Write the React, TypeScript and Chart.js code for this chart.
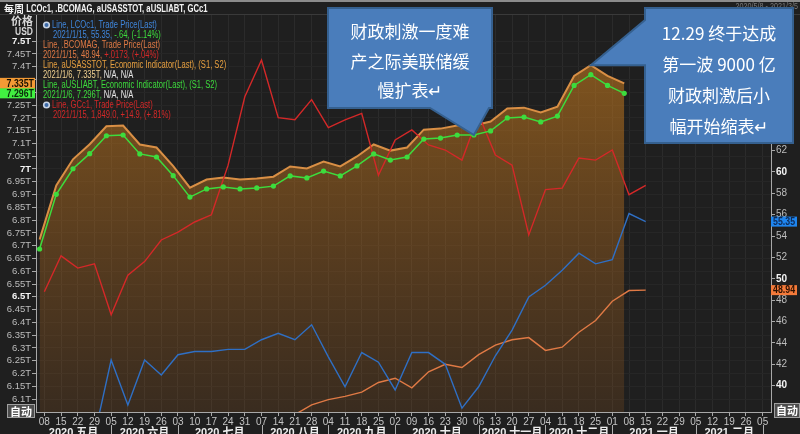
import React, { useEffect, useRef } from 'react';
import { Chart, registerables } from 'chart.js';

Chart.register(...registerables);

// ---------------- data ----------------
// weekly x ticks (Fridays) 2020-05-08 .. 2021-03-05
const weekTicks = ['08','15','22','29','05','12','19','26','03','10','17','24','31','07','14','21','28','04','11','18','25','02','09','16','23','30','06','13','20','27','04','11','18','25','01','08','15','22','29','05','12','19','26','05'];
const monthNames = ['2020 五月','2020 六月','2020 七月','2020 八月','2020 九月','2020 十月','2020 十一月','2020 十二月','2021 一月','2021 二月'];

// Fed H.4.1 data is dated on Wednesdays (2 days before the Friday ticks)
const fedDayOffset = -2;
// aUSASSTOT, trillion USD, 2020-05-06 .. 2021-01-06
const fedAssets = [6.724, 6.936, 7.038, 7.097, 7.167, 7.170, 7.096, 7.084, 7.011, 6.927, 6.959, 6.967, 6.959, 6.963, 6.970, 7.010, 7.002, 7.029, 7.010, 7.049, 7.096, 7.072, 7.084, 7.154, 7.158, 7.170, 7.170, 7.186, 7.237, 7.240, 7.221, 7.244, 7.364, 7.406, 7.364, 7.335];
// aUSLIABT, trillion USD
const fedLiabilities = [6.687, 6.901, 7.001, 7.060, 7.130, 7.133, 7.059, 7.047, 6.974, 6.890, 6.922, 6.930, 6.922, 6.926, 6.933, 6.973, 6.965, 6.992, 6.973, 7.012, 7.059, 7.035, 7.047, 7.117, 7.121, 7.133, 7.133, 7.149, 7.200, 7.203, 7.184, 7.207, 7.327, 7.369, 7.327, 7.296];
// LCOc1 weekly close, 2020-05-08 .. 2021-01-15
const brent = [30.97, 32.50, 35.13, 35.33, 42.4, 38.2, 42.4, 41.0, 42.9, 43.2, 43.2, 43.4, 43.4, 44.3, 44.9, 44.3, 45.7, 42.7, 39.9, 43.1, 42.2, 39.6, 43.1, 43.1, 42.0, 37.9, 39.9, 42.8, 45.2, 48.3, 49.4, 50.8, 52.4, 51.4, 51.8, 56.1, 55.35];
// .BCOMAG weekly close
const bcomag = [null, null, null, null, null, null, null, null, null, null, null, null, null, null, 36.6, 37.3, 38.2, 38.7, 39.0, 39.4, 40.3, 40.7, 39.8, 41.3, 42.0, 41.7, 42.9, 43.8, 44.3, 44.5, 43.3, 43.6, 45.0, 46.1, 47.9, 48.9, 48.94];
// GCc1 weekly close
const gold = [1701, 1751, 1734, 1740, 1669, 1724, 1743, 1773, 1784, 1798, 1808, 1877, 1972, 2023, 1943, 1940, 1968, 1929, 1940, 1949, 1863, 1912, 1926, 1905, 1898, 1884, 1947, 1891, 1877, 1780, 1843, 1845, 1887, 1884, 1898, 1836, 1849];

const leftTickValues = [6.1, 6.15, 6.2, 6.25, 6.3, 6.35, 6.4, 6.45, 6.5, 6.55, 6.6, 6.65, 6.7, 6.75, 6.8, 6.85, 6.9, 6.95, 7, 7.05, 7.1, 7.15, 7.2, 7.25, 7.3, 7.35, 7.4, 7.45, 7.5];
const rightTickValues = [40, 42, 44, 46, 48, 50, 52, 54, 56, 58, 60, 62, 64, 66, 68, 70, 72, 74];

const titlePrefix = '每周 ';
const titleText = 'LCOc1, .BCOMAG, aUSASSTOT, aUSLIABT, GCc1';
const dateRangeText = '2020/5/8 - 2021/3/5';
const callout1Lines = ['财政刺激一度难', '产之际美联储缓', '慢扩表↵'];
const callout2Lines = ['12.29 终于达成', '第一波 9000 亿', '财政刺激后小', '幅开始缩表↵'];
const callout1Anchor = 26; // fed liabilities point the first callout points at
const callout2Anchor = 33; // fed assets point the second callout points at

// ---------------- styles ----------------
const BG = '#1f1f1f';
const BLUE = '#2f6fc4';
const BLUE_T = '#3f86dc';
const ORANGE = '#e07a45';
const GOLD = '#d98f45';
const GOLD_T = '#e8a040';
const GREEN = '#3ddc3d';
const RED = '#d42828';
const WHITE = '#e6e6e6';
const SANS = '"Liberation Sans", Arial, sans-serif';
const CJK = '"Noto Sans CJK SC", "Noto Sans", sans-serif';
const NARROW_X = 0.76; // horizontal squeeze to mimic the narrow UI font

const legendRows = [
  { icon: true, indent: 10, parts: [['Line, LCOc1, Trade Price(Last)', BLUE_T]] },
  { indent: 10, parts: [['2021/1/15, 55.35, ', BLUE_T], ['-.64, (-1.14%)', GREEN]] },
  { indent: 0, parts: [['Line, .BCOMAG, Trade Price(Last)', ORANGE]] },
  { indent: 0, parts: [['2021/1/15, 48.94, ', ORANGE], ['+.0173, (+.04%)', RED]] },
  { indent: 0, parts: [['Line, aUSASSTOT, Economic Indicator(Last), (S1, S2)', GOLD_T]] },
  { indent: 0, parts: [['2021/1/6, 7.335T, ', '#f0d090'], ['N/A, N/A', WHITE]] },
  { indent: 0, parts: [['Line, aUSLIABT, Economic Indicator(Last), (S1, S2)', GREEN]] },
  { indent: 0, parts: [['2021/1/6, 7.296T, ', GREEN], ['N/A, N/A', WHITE]] },
  { icon: true, indent: 10, parts: [['Line, GCc1, Trade Price(Last)', RED]] },
  { indent: 10, parts: [['2021/1/15, 1,849.0, ', RED], ['+14.9, (+.81%)', RED]] },
];

const fmtT = (v: number) => Number(v.toFixed(3)).toString() + 'T';
const isHalf = (v: any) => typeof v === 'number' && Math.abs(v * 2 - Math.round(v * 2)) < 1e-6;
const isTen = (v: any) => typeof v === 'number' && v % 10 === 0;

function narrowText(ctx: CanvasRenderingContext2D, text: string, x: number, y: number, sx: number) {
  ctx.save();
  ctx.translate(x, y);
  ctx.scale(sx, 1);
  ctx.fillText(text, 0, 0);
  ctx.restore();
  return ctx.measureText(text).width * sx;
}

function drawLabelBox(ctx: CanvasRenderingContext2D, x0: number, x1: number, yc: number, h: number, bg: string, fg: string, text: string, align: CanvasTextAlign, tx: number) {
  ctx.fillStyle = bg;
  ctx.fillRect(x0, yc - h / 2, x1 - x0, h);
  ctx.fillStyle = fg;
  ctx.font = 'bold 10px ' + SANS;
  ctx.textAlign = align;
  ctx.textBaseline = 'middle';
  narrowText(ctx, text, tx, yc + 0.5, 0.88);
}

function drawAuto(ctx: CanvasRenderingContext2D, x: number, y: number, w: number, h: number) {
  ctx.fillStyle = '#4d4d4d';
  ctx.fillRect(x, y, w, h);
  ctx.strokeStyle = '#a0a0a0';
  ctx.lineWidth = 1;
  ctx.strokeRect(x + 0.5, y + 0.5, w - 1, h - 1);
  ctx.fillStyle = '#ffffff';
  ctx.font = 'bold 11px ' + CJK;
  ctx.textAlign = 'center';
  ctx.textBaseline = 'middle';
  ctx.fillText('自动', x + w / 2, y + h / 2 + 0.5);
}

function drawCallout(ctx: CanvasRenderingContext2D, pts: number[][], lines: string[], cx: number, y0: number, dy: number) {
  ctx.beginPath();
  ctx.moveTo(pts[0][0], pts[0][1]);
  for (let i = 1; i < pts.length; i++) ctx.lineTo(pts[i][0], pts[i][1]);
  ctx.closePath();
  ctx.fillStyle = '#4a7dbb';
  ctx.fill();
  ctx.strokeStyle = '#35608f';
  ctx.lineWidth = 2;
  ctx.stroke();
  ctx.fillStyle = '#ffffff';
  ctx.font = '17px ' + CJK;
  ctx.textAlign = 'center';
  ctx.textBaseline = 'middle';
  lines.forEach((l, i) => ctx.fillText(l, cx, y0 + i * dy));
}

const overlayPlugin = {
  id: 'overlay',
  beforeDraw(chart: any) {
    const { ctx, width, height } = chart;
    ctx.save();
    ctx.fillStyle = BG;
    ctx.fillRect(0, 0, width, height);
    ctx.restore();
  },
  afterDraw(chart: any) {
    const { ctx, chartArea } = chart;
    const xs = chart.scales.x;
    const yl = chart.scales.yL;
    const yr = chart.scales.yR;
    ctx.save();

    // top strip and title
    ctx.fillStyle = '#8c8c8c';
    ctx.fillRect(0, 0, chart.width, 2);
    ctx.strokeStyle = '#3a3a3a';
    ctx.lineWidth = 1;
    ctx.beginPath();
    ctx.moveTo(0, chartArea.top + 0.5);
    ctx.lineTo(chart.width, chartArea.top + 0.5);
    ctx.stroke();
    ctx.fillStyle = '#f2f2f2';
    ctx.textAlign = 'left';
    ctx.textBaseline = 'middle';
    ctx.font = 'bold 10px ' + CJK;
    ctx.fillText(titlePrefix, 4, 9);
    const px0 = 4 + ctx.measureText(titlePrefix).width;
    ctx.font = 'bold 10px ' + SANS;
    narrowText(ctx, titleText, px0, 9, 0.77);
    ctx.font = '9px ' + SANS;
    ctx.fillStyle = '#7a7a7a';
    ctx.textAlign = 'right';
    narrowText(ctx, dateRangeText, 798, 7, 0.8);

    // 价格 / USD
    ctx.fillStyle = '#d8d8d8';
    ctx.textAlign = 'right';
    ctx.font = 'bold 11px ' + CJK;
    ctx.fillText('价格', 33, 21);
    ctx.font = 'bold 10px ' + SANS;
    narrowText(ctx, 'USD', 33, 32, 0.85);

    // highlighted last values on axes
    const lastA = fedAssets[fedAssets.length - 1];
    const lastL = fedLiabilities[fedLiabilities.length - 1];
    drawLabelBox(ctx, 0, 35, yl.getPixelForValue(lastA), 11, '#f39a35', '#1a1000', fmtT(lastA), 'right', 34);
    drawLabelBox(ctx, 0, 35, yl.getPixelForValue(lastL), 10, '#41f041', '#0a2a0a', fmtT(lastL), 'right', 34);
    const lastB = brent[brent.length - 1] as number;
    const lastC = bcomag[bcomag.length - 1] as number;
    drawLabelBox(ctx, 771, 797, yr.getPixelForValue(lastB), 10, '#1e86f0', '#0f2a55', lastB.toFixed(2), 'left', 773);
    drawLabelBox(ctx, 771, 797, yr.getPixelForValue(lastC), 10, '#f47a3a', '#2a1000', lastC.toFixed(2), 'left', 773);

    // 自动 boxes
    drawAuto(ctx, 7, 404, 28, 14);
    drawAuto(ctx, 774, 403, 26, 15);

    // month row
    const starts: number[] = [0];
    for (let i = 1; i < weekTicks.length; i++) if (+weekTicks[i] < +weekTicks[i - 1]) starts.push(i);
    ctx.strokeStyle = '#b0b0b0';
    ctx.lineWidth = 1;
    for (let k = 1; k < starts.length; k++) {
      const px = Math.round(xs.getPixelForValue(starts[k])) + 0.5;
      ctx.beginPath();
      ctx.moveTo(px, 425);
      ctx.lineTo(px, 434);
      ctx.stroke();
    }
    ctx.font = 'bold 11px ' + SANS + ', ' + CJK;
    ctx.fillStyle = '#ececec';
    ctx.textAlign = 'center';
    ctx.textBaseline = 'top';
    monthNames.forEach((m, k) => {
      const a = k === 0 ? chartArea.left : xs.getPixelForValue(starts[k]);
      const b = xs.getPixelForValue(starts[k + 1]);
      ctx.fillText(m, (a + b) / 2, 427);
    });

    // legend block
    ctx.textAlign = 'left';
    ctx.textBaseline = 'middle';
    ctx.font = '10px ' + SANS;
    legendRows.forEach((row: any, r) => {
      const y = 25 + r * 10;
      let x = 43 + row.indent;
      if (row.icon) {
        ctx.beginPath();
        ctx.arc(46.5, y, 3.6, 0, Math.PI * 2);
        ctx.fillStyle = '#c8d4e4';
        ctx.fill();
        ctx.beginPath();
        ctx.arc(46.5, y, 2, 0, Math.PI * 2);
        ctx.fillStyle = '#3c6aa8';
        ctx.fill();
        x = 52;
      }
      row.parts.forEach((p: string[]) => {
        ctx.fillStyle = p[1];
        x += narrowText(ctx, p[0], x, y, NARROW_X);
      });
    });

    // callouts
    const off = fedDayOffset / 7;
    const t1x = xs.getPixelForValue(callout1Anchor + off);
    const t1y = yl.getPixelForValue(fedLiabilities[callout1Anchor]);
    drawCallout(ctx, [[328, 8], [492, 8], [492, 108], [489, 108], [t1x, t1y], [430, 108], [328, 108]], callout1Lines, 410, 32, 29.5);
    const t2x = xs.getPixelForValue(callout2Anchor + off);
    const t2y = yl.getPixelForValue(fedAssets[callout2Anchor]);
    drawCallout(ctx, [[645, 8], [793, 8], [793, 143], [645, 143], [645, t2y], [t2x, t2y], [645, 20]], callout2Lines, 719, 34, 30.7);

    ctx.restore();
  },
};

export default function App() {
  const ref = useRef<HTMLCanvasElement | null>(null);
  useEffect(() => {
    const canvas = ref.current;
    if (!canvas) return;
    const off = fedDayOffset / 7;
    const chart = new Chart(canvas, {
      type: 'line',
      data: {
        datasets: [
          {
            label: 'aUSASSTOT',
            data: fedAssets.map((v, i) => ({ x: i + off, y: v })),
            yAxisID: 'yL',
            borderColor: GOLD,
            borderWidth: 2,
            pointRadius: 0,
            fill: 'start',
            backgroundColor: (c: any) => {
              const a = c.chart.chartArea;
              if (!a) return 'rgba(0,0,0,0)';
              const g = c.chart.ctx.createLinearGradient(0, a.top, 0, a.bottom);
              g.addColorStop(0, 'rgba(205,128,30,0.62)');
              g.addColorStop(1, 'rgba(176,101,31,0.18)');
              return g;
            },
            order: 5,
          },
          {
            label: 'aUSLIABT',
            data: fedLiabilities.map((v, i) => ({ x: i + off, y: v })),
            yAxisID: 'yL',
            borderColor: GREEN,
            borderWidth: 1.5,
            pointRadius: 2.6,
            pointBackgroundColor: GREEN,
            pointBorderWidth: 0,
            fill: false,
            order: 1,
          },
          {
            label: 'GCc1',
            data: gold.map((v, i) => ({ x: i, y: v })),
            yAxisID: 'yG',
            borderColor: RED,
            borderWidth: 1.4,
            pointRadius: 0,
            fill: false,
            order: 2,
          },
          {
            label: 'LCOc1',
            data: brent.map((v, i) => ({ x: i, y: v })),
            yAxisID: 'yR',
            borderColor: BLUE,
            borderWidth: 1.4,
            pointRadius: 0,
            fill: false,
            order: 3,
          },
          {
            label: '.BCOMAG',
            data: bcomag.map((v, i) => ({ x: i, y: v })),
            yAxisID: 'yR',
            borderColor: ORANGE,
            borderWidth: 1.4,
            pointRadius: 0,
            fill: false,
            spanGaps: false,
            order: 4,
          },
        ],
      },
      options: {
        animation: false,
        responsive: false,
        maintainAspectRatio: false,
        events: [],
        layout: { padding: { top: 14, left: 0, right: 0, bottom: 0 } },
        plugins: { legend: { display: false }, tooltip: { enabled: false } },
        scales: {
          x: {
            type: 'linear',
            min: -0.5,
            max: weekTicks.length - 0.5,
            afterBuildTicks: (s: any) => { s.ticks = weekTicks.map((_, i) => ({ value: i })); },
            afterFit: (s: any) => { s.height = 22; },
            ticks: {
              autoSkip: false,
              maxRotation: 0,
              padding: 0,
              color: '#c4c4c4',
              font: { family: SANS, size: 10 },
              callback: (v: any) => weekTicks[Math.round(v)] ?? '',
            },
            grid: { color: '#2b2b2b', tickColor: '#a8a8a8', tickLength: 4 },
            border: { color: '#a8a8a8' },
          },
          yL: {
            type: 'linear',
            position: 'left',
            min: 6.0493,
            max: 7.6064,
            afterBuildTicks: (s: any) => { s.ticks = leftTickValues.map((v) => ({ value: v })); },
            afterFit: (s: any) => { s.width = 36; },
            ticks: {
              autoSkip: false,
              padding: 1,
              color: (c: any) => (isHalf(c?.tick?.value) ? '#f4f4f4' : '#bdbdbd'),
              font: (c: any) => ({ family: SANS, size: 9.5, weight: isHalf(c?.tick?.value) ? 'bold' : 'normal' }),
              callback: (v: any) => {
                const lastA = fedAssets[fedAssets.length - 1];
                const lastL = fedLiabilities[fedLiabilities.length - 1];
                if (Math.abs(v - lastA) < 0.025 || Math.abs(v - lastL) < 0.025) return '';
                return fmtT(v);
              },
            },
            grid: { color: '#262626', tickColor: '#a8a8a8', tickLength: 4 },
            border: { color: '#a8a8a8' },
          },
          yR: {
            type: 'linear',
            position: 'right',
            min: 37.54,
            max: 74.77,
            afterBuildTicks: (s: any) => { s.ticks = rightTickValues.map((v) => ({ value: v })); },
            afterFit: (s: any) => { s.width = 29; },
            ticks: {
              autoSkip: false,
              padding: 1,
              color: (c: any) => (isTen(c?.tick?.value) ? '#f4f4f4' : '#bdbdbd'),
              font: (c: any) => ({ family: SANS, size: 10, weight: isTen(c?.tick?.value) ? 'bold' : 'normal' }),
              callback: (v: any) => String(v),
            },
            grid: { drawOnChartArea: false, tickColor: '#a8a8a8', tickLength: 4 },
            border: { color: '#a8a8a8' },
          },
          yG: {
            type: 'linear',
            display: false,
            min: 1534,
            max: 2087,
          },
        },
      },
      plugins: [overlayPlugin],
    } as any);
    return () => chart.destroy();
  }, []);
  return (
    <div style={{ position: 'fixed', left: 0, top: 0, width: 800, height: 434, background: BG }}>
      <canvas ref={ref} width={800} height={434} style={{ width: 800, height: 434, display: 'block' }} />
    </div>
  );
}
